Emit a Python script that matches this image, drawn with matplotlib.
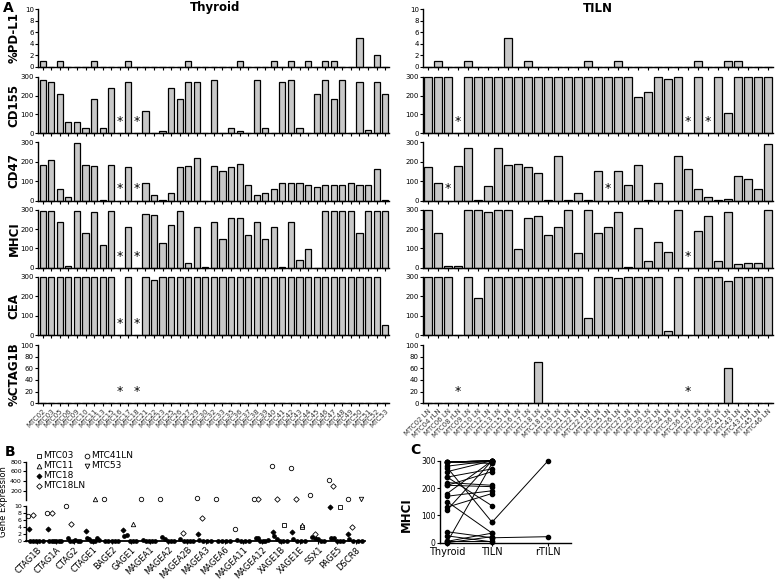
import numpy as np
import matplotlib

matplotlib.use("Agg")
import matplotlib.pyplot as plt
from matplotlib.lines import Line2D

W, H = 776, 581

# ---- panel A: thyroid samples ----
THY_LABELS = ["MTC02", "MTC03", "MTC05", "MTC06", "MTC09", "MTC10", "MTC11", "MTC13", "MTC15",
              "MTC16", "MTC17", "MTC18", "MTC21", "MTC22", "MTC23", "MTC25", "MTC26", "MTC27",
              "MTC29", "MTC30", "MTC32", "MTC33", "MTC35", "MTC36", "MTC37", "MTC38", "MTC39",
              "MTC40", "MTC41", "MTC42", "MTC43", "MTC44", "MTC45", "MTC46", "MTC47", "MTC48",
              "MTC49", "MTC50", "MTC51", "MTC52", "MTC53"]
THY_PDL1 = [1, 0, 1, 0, 0, 0, 1, 0, 0, 0, 1, 0, 0, 0, 0, 0, 0, 1, 0, 0, 0, 0, 0, 1, 0, 0, 0,
            1, 0, 1, 0, 1, 0, 1, 1, 0, 0, 5, 0, 2, 0]
THY_CD155 = [285, 270, 210, 60, 60, 30, 180, 30, 240, 0, 270, 0, 120, 0, 10, 240, 180, 270, 270,
             3, 285, 0, 30, 10, 0, 285, 30, 0, 270, 285, 30, 0, 210, 285, 180, 285, 0, 270, 15,
             270, 210]
THY_CD47 = [180, 210, 60, 20, 295, 180, 175, 5, 180, 0, 170, 0, 90, 30, 5, 40, 170, 175, 220, 0,
            175, 150, 170, 190, 80, 30, 40, 60, 90, 90, 90, 80, 70, 80, 80, 80, 90, 80, 80, 160, 3]
THY_MHCI = [295, 295, 240, 8, 295, 180, 290, 120, 295, 0, 210, 0, 280, 275, 130, 220, 295, 25,
            210, 5, 240, 150, 260, 260, 170, 240, 150, 210, 2, 240, 40, 95, 0, 295, 295, 295, 295,
            180, 295, 295, 295]
THY_CEA = [300, 300, 300, 300, 300, 300, 300, 300, 300, 0, 300, 0, 300, 285] + [300] * 26 + [50]
THY_CTAG1B = [0] * 41
THY_STARS = {"%PD-L1": [], "CD155": [9, 11], "CD47": [9, 11], "MHCI": [9, 11],
             "CEA": [9, 11], "%CTAG1B": [9, 11]}

# ---- panel A: TILN samples ----
TIL_LABELS = ["MTC02 LN", "MTC04 rLN", "MTC06 LN", "MTC08 rLN", "MTC09 LN", "MTC10 LN",
              "MTC12 LN", "MTC13 LN", "MTC15 LN", "MTC16 LN", "MTC17 LN", "MTC18 LN",
              "MTC18 rLN", "MTC19 LN", "MTC21 LN", "MTC22 LN", "MTC22 rLN", "MTC23 LN",
              "MTC25 LN", "MTC26 LN", "MTC27 LN", "MTC29 LN", "MTC30 LN", "MTC32 LN",
              "MTC34 LN", "MTC36 LN", "MTC36 rLN", "MTC37 LN", "MTC38 LN", "MTC39 LN",
              "MTC41 LN", "MTC43 LN", "MTC43 rLN", "MTC45 LN", "MTC46 LN"]
TIL_PDL1 = [0, 1, 0, 0, 1, 0, 0, 0, 5, 0, 1, 0, 0, 0, 0, 0, 1, 0, 0, 1, 0, 0, 0, 0, 0, 0, 0,
            1, 0, 0, 1, 1, 0, 0, 0]
TIL_CD155 = [300, 300, 300, 0] + [300] * 17 + [190, 220, 300, 290, 300, 0, 300, 0, 300, 110,
                                                300, 300, 300, 300]
TIL_CD47 = [170, 90, 0, 175, 270, 3, 75, 270, 180, 190, 170, 140, 3, 230, 3, 40, 3, 150, 0, 150,
            80, 180, 3, 90, 0, 230, 160, 60, 20, 3, 10, 125, 110, 60, 290]
TIL_MHCI = [300, 180, 8, 8, 300, 300, 290, 300, 300, 95, 260, 270, 170, 210, 300, 75, 300, 180,
            210, 290, 3, 205, 35, 135, 80, 300, 0, 190, 270, 35, 290, 18, 22, 22, 300]
TIL_CEA = [300, 300, 300, 0, 300, 190] + [300] * 10 + [90, 300, 300, 295, 300, 300, 300, 300,
                                                       20, 300, 0, 300, 300, 300, 280, 300,
                                                       300, 300, 300]
TIL_CTAG1B = [0] * 11 + [70] + [0] * 18 + [60] + [0] * 4
TIL_STARS = {"%PD-L1": [], "CD155": [3, 26, 28], "CD47": [2, 18], "MHCI": [26],
             "CEA": [], "%CTAG1B": [3, 26]}

MARKERS = ["%PD-L1", "CD155", "CD47", "MHCI", "CEA", "%CTAG1B"]
YMAX = [10, 300, 300, 300, 300, 100]
YSTEP = [2, 100, 100, 100, 100, 20]

# ---- panel B: cancer-testis gene expression ----
GENES = ["CTAG1B", "CTAG1A", "CTAG2", "CTAGE1", "BAGE2", "GAGE1", "MAGEA1", "MAGEA2", "MAGEA2B",
         "MAGEA3", "MAGEA6", "MAGEA11", "MAGEA12", "XAGE1B", "XAGE1E", "SSX1", "PAGE5", "DSCR8"]
n = np.nan
MTC03 = [n, n, n, n, n, n, n, n, n, n, n, n, n, 4.6, 4.1, n, 9.6, n]
MTC11 = [n, n, n, 25, n, 4.8, n, n, n, n, n, n, n, n, 4.5, n, n, n]
MTC18 = [3.3, 3.5, n, 3.0, n, 3.2, n, n, n, 2.0, n, n, n, 2.7, 2.7, n, 9.8, 2.0]
MTC18LN = [7.5, 7.9, 4.8, n, n, n, n, n, 2.2, 6.5, n, n, 20, 25, 25, 2.0, 300, 4.1]
MTC41LN = [7.1, 7.9, 10, n, 25, n, 25, 25, n, 55, 28, 3.3, 30, 720, 680, 110, 420, 30]
MTC53 = [n, n, n, n, n, n, n, n, n, n, n, n, n, n, n, n, n, 30]
OTHERS = [[0, 0, 0, 0, 0], [0, 0, 0, 0, 0, 0], [1.0, 0, 0, 0.4, 0, 0],
          [1.0, 0.6, 0, 0, 0, 1.0, 0.3], [0, 0, 0, 0, 0], [1.4, 1.7, 0, 0, 0],
          [0.3, 0, 0, 0, 0], [1.2, 0.5, 0, 0, 0], [0.5, 0, 0, 0, 0], [0.3, 0, 0, 0],
          [0, 0, 0, 0], [0.2, 0, 0, 0], [1.0, 0.8, 0, 0, 0, 0.4], [1.5, 0.5, 0, 0, 0],
          [0.5, 0, 0, 0], [1.2, 0.8, 0.5, 0, 0], [0.8, 0.8, 0, 0, 0], [0.5, 0, 0, 0]]

SERIES_B = [("MTC03", MTC03, dict(marker="s", mfc="white"), 0.15),
            ("MTC11", MTC11, dict(marker="^", mfc="white"), 0.1),
            ("MTC18", MTC18, dict(marker="D", mfc="black", ms=2.6), -0.4),
            ("MTC18LN", MTC18LN, dict(marker="D", mfc="white", ms=2.8), -0.2),
            ("MTC41LN", MTC41LN, dict(marker="o", mfc="white"), -0.45),
            ("MTC53", MTC53, dict(marker="v", mfc="white"), 0.25)]


def add_ax(fig, x0, y0, x1, y1):
    return fig.add_axes([x0 / W, 1 - y1 / H, (x1 - x0) / W, (y1 - y0) / H])


def ftext(fig, x, y, s, **kw):
    fig.text(x / W, 1 - y / H, s, **kw)


def style(ax, lsize=5):
    for s in ("top", "right"):
        ax.spines[s].set_visible(False)
    for s in ("left", "bottom"):
        ax.spines[s].set_linewidth(1.0)
    ax.tick_params(length=2, width=0.8, labelsize=lsize, pad=1)


def bar_column(fig, x0, x1, labels, data, stars, xlim):
    rows = [(9.3, 66.7), (76.7, 133.3), (142, 200.7), (210, 267.7), (276.7, 335), (345, 403.3)]
    x = np.arange(len(labels))
    for k, (name, ymax, step) in enumerate(zip(MARKERS, YMAX, YSTEP)):
        ax = add_ax(fig, x0, rows[k][0], x1, rows[k][1])
        ax.bar(x, data[name], width=0.72, color="#c8c8c8", edgecolor="black", linewidth=0.9,
               clip_on=False)
        for i in stars[name]:
            ax.text(i, 0.2 * ymax, "*", ha="center", va="center", fontsize=9)
        ax.set_xlim(*xlim)
        ax.set_ylim(0, ymax)
        ax.set_yticks(np.arange(0, ymax + 1, step))
        ax.set_xticks(x)
        style(ax)
        if k == len(MARKERS) - 1:
            ax.set_xticklabels(labels, rotation=45, ha="right", rotation_mode="anchor",
                               fontsize=5, color="#333333")
        else:
            ax.set_xticklabels([])


def main() -> None:
    fig = plt.figure(figsize=(W / 100, H / 100), dpi=100)

    thy = dict(zip(MARKERS, [THY_PDL1, THY_CD155, THY_CD47, THY_MHCI, THY_CEA, THY_CTAG1B]))
    til = dict(zip(MARKERS, [TIL_PDL1, TIL_CD155, TIL_CD47, TIL_MHCI, TIL_CEA, TIL_CTAG1B]))
    bar_column(fig, 38, 389, THY_LABELS, thy, THY_STARS, (-0.55, 40.45))
    bar_column(fig, 423, 773, TIL_LABELS, til, TIL_STARS, (-0.5, 34.5))

    for name, yc in zip(MARKERS, [38, 105, 171, 239, 306, 374]):
        ftext(fig, 14, yc, name, rotation=90, ha="center", va="center", fontsize=8.5,
              fontweight="bold")
    ftext(fig, 8, 8, "A", ha="center", va="center", fontsize=10, fontweight="bold")
    ftext(fig, 215, 8, "Thyroid", ha="center", va="center", fontsize=8.5, fontweight="bold")
    ftext(fig, 598, 8, "TILN", ha="center", va="center", fontsize=8.5, fontweight="bold")

    # --- panel B: broken y axis ---
    xl = (-0.58, 17.48)
    axu = add_ax(fig, 26, 461.7, 365, 500.4)
    axl = add_ax(fig, 26, 506, 365, 541)
    for ax in (axu, axl):
        style(ax, 4.5)
        ax.set_xlim(*xl)
    axu.spines["bottom"].set_visible(False)
    axu.set_xticks([])
    axu.set_ylim(0, 800)
    axu.set_yticks([200, 400, 600, 800])
    axl.set_ylim(0, 10)
    axl.set_yticks([0, 2, 4, 6, 8, 10])
    axl.spines["bottom"].set_linewidth(1.3)
    axl.set_xticks(np.arange(len(GENES)))
    axl.set_xticklabels(GENES, rotation=45, ha="right", rotation_mode="anchor", fontsize=6)

    for g, vals in enumerate(OTHERS):
        xs = g + np.linspace(-0.35, 0.3, len(vals))
        axl.plot(xs, vals, "o", color="black", ms=2.4, ls="none", clip_on=False)
    for name, vals, mk, off in SERIES_B:
        kw = dict(ms=3.2, mec="black", mew=0.6, ls="none", clip_on=False)
        kw.update(mk)
        vals = np.array(vals, dtype=float)
        xs = np.arange(len(GENES)) + off
        lo = vals <= 10
        hi = vals > 10
        axl.plot(xs[lo], vals[lo], color="black", **kw)
        axu.plot(xs[hi], vals[hi], color="black", **kw)

    ftext(fig, 10, 452, "B", ha="center", va="center", fontsize=10, fontweight="bold")
    ftext(fig, 4, 502, "Gene Expression", rotation=90, ha="center", va="center", fontsize=6)
    legend_pos = [(39, 456), (39, 466), (39, 476), (39, 486), (87, 456), (87, 466)]
    for (name, _, mk, _), (lx, ly) in zip(SERIES_B, legend_pos):
        kw = dict(ms=3.4, mec="black", mew=0.6, color="black")
        kw.update(mk)
        fig.add_artist(Line2D([lx / W], [1 - ly / H], transform=fig.transFigure, **kw))
        ftext(fig, lx + 4, ly, name, ha="left", va="center", fontsize=6.5)

    # --- panel C: paired MHCI ---
    thy_map = {l: v for i, (l, v) in enumerate(zip(THY_LABELS, THY_MHCI))
               if i not in THY_STARS["MHCI"]}
    til_map = {l: v for i, (l, v) in enumerate(zip(TIL_LABELS, TIL_MHCI))
               if i not in TIL_STARS["MHCI"]}
    axc = add_ax(fig, 440, 460.7, 571, 542.7)
    pos = [0, 1, 2.25]
    for lab, tv in thy_map.items():
        ln = til_map.get(lab + " LN")
        if ln is None:
            continue
        axc.plot(pos[:2], [tv, ln], "-o", color="black", lw=0.7, ms=3.0, clip_on=False)
        rln = til_map.get(lab + " rLN")
        if rln is not None:
            axc.plot(pos[1:], [ln, rln], "-o", color="black", lw=0.7, ms=3.0, clip_on=False)
    style(axc, 5.5)
    axc.set_xlim(-0.16, 2.76)
    axc.set_ylim(0, 300)
    axc.set_yticks([0, 100, 200, 300])
    axc.set_xticks(pos)
    axc.set_xticklabels(["Thyroid", "TILN", "rTILN"], fontsize=7)
    ftext(fig, 415, 450, "C", ha="center", va="center", fontsize=10, fontweight="bold")
    ftext(fig, 406, 515, "MHCI", rotation=90, ha="center", va="center", fontsize=8.5,
          fontweight="bold")

    fig.savefig("out.png", dpi=100)
    plt.close(fig)


if __name__ == "__main__":
    main()
